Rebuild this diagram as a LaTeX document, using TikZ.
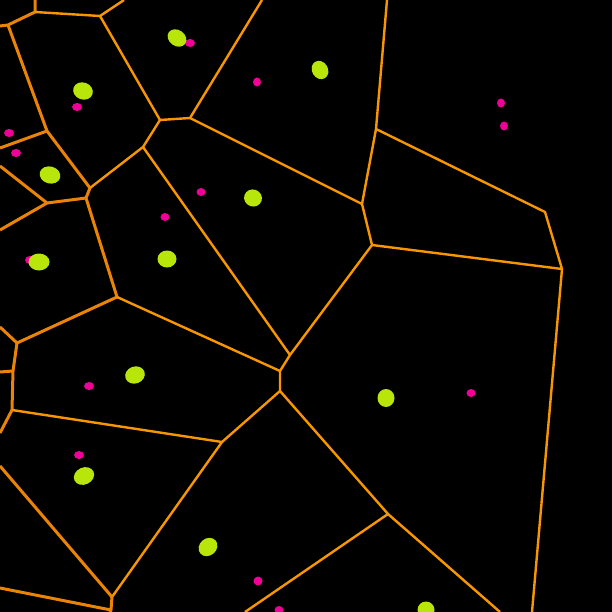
\documentclass[tikz,border=0pt]{standalone}
\usetikzlibrary{positioning}
\definecolor{edgeorange}{RGB}{248,150,0}
\definecolor{edgedark}{RGB}{235,132,5}
\definecolor{seedgreen}{RGB}{184,230,10}
\definecolor{probepink}{RGB}{240,0,150}
\begin{document}
\begin{tikzpicture}[x=1pt, y=-1pt,
                    edge/.style={draw=edgeorange, line width=2.4pt, line join=round},
                    outer edge/.style={edge, draw=edgedark, line width=3pt},
                    seed/.style={fill=seedgreen},
                    probe/.style={fill=probepink}
                ]
                \fill[black] (0,0) rectangle (612,612);
                \clip (0,0) rectangle (612,612);

                % cell corners
                \coordinate (a) at (35,12);
                \coordinate (b) at (100,16);
                \coordinate (c) at (8,25);
                \coordinate (d) at (47,131);
                \coordinate (e) at (160,120);
                \coordinate (f) at (190,118);
                \coordinate (g) at (143,147);
                \coordinate (h) at (90,188);
                \coordinate (i) at (86,198);
                \coordinate (j) at (47,203);
                \coordinate (k) at (117,297);
                \coordinate (l) at (17,343);
                \coordinate (m) at (13,371);
                \coordinate (n) at (12,410);
                \coordinate (o) at (222,442);
                \coordinate (p) at (280,391);
                \coordinate (q) at (280,371);
                \coordinate (r) at (290,355);
                \coordinate (s) at (372,245);
                \coordinate (t) at (362,204);
                \coordinate (u) at (376,129);
                \coordinate (v) at (545,212);
                \coordinate (w) at (562,269);
                \coordinate (x) at (388,514);
                \coordinate (y) at (112,597);
                \coordinate (z) at (111,610);

                % cell walls
                \draw[outer edge] (0,26) -- (c) -- (a) -- (35,0);
                \draw[edge] (a) -- (b) -- (124,0);
                \draw[outer edge] (c) -- (d) -- (h) -- (i) -- (k) -- (l) -- (m) -- (n);
                \draw[edge] (n) -- (o) -- (p) -- (q) -- (r) -- (s) -- (t) -- (u) -- (387,0);
                \draw[edge] (b) -- (e) -- (f) -- (262,0);
                \draw[edge] (f) -- (t);
                \draw[edge] (e) -- (g) -- (h);
                \draw[outer edge] (d) -- (0,148);
                \draw[outer edge] (0,166) -- (j) -- (i);
                \draw[outer edge] (j) -- (0,230);
                \draw[edge] (g) -- (r);
                \draw[edge] (k) -- (q);
                \draw[outer edge] (l) -- (0,327);
                \draw[outer edge] (m) -- (0,372);
                \draw[outer edge] (n) -- (0,433);
                \draw[edge] (u) -- (v) -- (w) -- (s);
                \draw[edge] (w) -- (532,612);
                \draw[edge] (p) -- (x) -- (500,612);
                \draw[edge] (x) -- (245,612);
                \draw[edge] (o) -- (y);
                \draw[outer edge] (y) -- (z) -- (110,612);
                \draw[outer edge] (0,466) -- (y);
                \draw[outer edge] (0,588) -- (z);

                % small pink marks
                \fill[probe] (190,43) ellipse (5 and 4);
                \fill[probe] (77,107) ellipse (5 and 4);
                \fill[probe] (9,133) ellipse (5 and 4);
                \fill[probe] (16,153) ellipse (5 and 4);
                \fill[probe] (257,82) ellipse (4 and 4.5);
                \fill[probe] (201,192) ellipse (4.5 and 4);
                \fill[probe] (165,217) ellipse (4.5 and 4);
                \fill[probe] (501,103) ellipse (4 and 4.5);
                \fill[probe] (504,126) ellipse (4 and 4.5);
                \fill[probe] (30,260) ellipse (5 and 4);
                \fill[probe] (89,386) ellipse (5 and 4);
                \fill[probe] (79,455) ellipse (5 and 4);
                \fill[probe] (258,581) ellipse (4.5 and 4.5);
                \fill[probe] (279,610) ellipse (4.5 and 4);
                \fill[probe] (471,393) ellipse (4.5 and 4);

                % green seeds
                \fill[seed, rotate around={-35:(177,38)}] (177,38) ellipse (10 and 8);
                \fill[seed, rotate around={-20:(83,91)}] (83,91) ellipse (10 and 8.5);
                \fill[seed, rotate around={-15:(50,175)}] (50,175) ellipse (10.5 and 8.5);
                \fill[seed, rotate around={-60:(320,70)}] (320,70) ellipse (9.5 and 8);
                \fill[seed, rotate around={-20:(253,198)}] (253,198) ellipse (9 and 8.5);
                \fill[seed] (39,262) ellipse (10.5 and 8.5);
                \fill[seed] (167,259) ellipse (9.5 and 8.5);
                \fill[seed, rotate around={20:(135,375)}] (135,375) ellipse (10 and 8.5);
                \fill[seed] (386,398) ellipse (8.5 and 9);
                \fill[seed, rotate around={25:(84,476)}] (84,476) ellipse (10.5 and 8.5);
                \fill[seed, rotate around={40:(208,547)}] (208,547) ellipse (10 and 8.5);
                \fill[seed] (426,610) ellipse (8.5 and 8.5);
                \end{tikzpicture}
\end{document}
